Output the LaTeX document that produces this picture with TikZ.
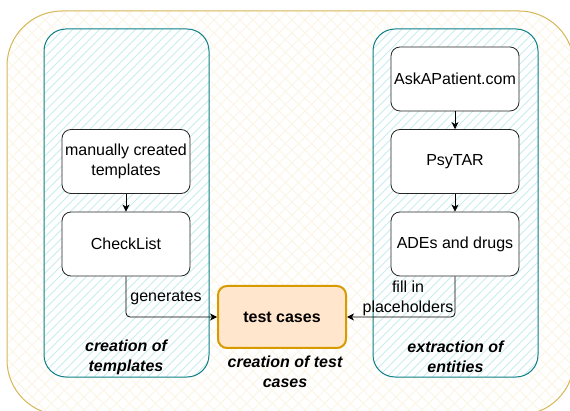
\documentclass[tikz,border=0pt]{standalone}
\usepackage{fontspec}
\setmainfont{Liberation Sans}
\usetikzlibrary{arrows.meta}
\definecolor{tealS}{HTML}{0E8088}
\definecolor{tealH}{HTML}{C8EDEF}
\definecolor{goldS}{HTML}{D6B656}
\definecolor{goldH}{HTML}{FDF5E3}
\definecolor{orgF}{HTML}{FFE6CC}
\definecolor{orgS}{HTML}{D79B00}
\begin{document}
\begin{tikzpicture}[x=1pt,y=-1pt,
  every node/.style={font=\fontsize{16}{20}\selectfont},
  stepbox/.style={draw=black!85, line width=0.8pt, fill=white, rounded corners=9pt,
    minimum width=128pt, minimum height=64pt, align=center, inner sep=1pt},
  tcbox/.style={draw=orgS, line width=2pt, fill=orgF, rounded corners=9pt,
    minimum width=128pt, minimum height=62pt, align=center, font=\fontsize{16}{20}\selectfont\bfseries},
  grp/.style={font=\fontsize{16}{20}\selectfont\bfseries\itshape, align=center},
  lbl/.style={align=center, inner sep=0pt},
  arr/.style={draw=black, line width=0.8pt, -{Stealth[length=7pt,width=7pt,inset=2pt]}},
  hatchO/.style={draw=goldH, line width=0.9pt},
  hatchT/.style={draw=tealH, line width=0.9pt}]
\useasboundingbox (0,0) rectangle (570,411);
% outer container
\begin{scope}
  \clip (0,0) rectangle (570,411);
  \fill[white, rounded corners=55pt] (7,11) rectangle (574,415);
  \begin{scope}
    \clip[rounded corners=55pt] (7,11) rectangle (574,415);
    \foreach \i in {-430,-417,...,600} {
      \draw[hatchO] (\i,0) -- ++(430,430);
      \draw[hatchO] (\i,430) -- ++(430,-430);
    }
  \end{scope}
  \draw[goldS, line width=1pt, rounded corners=55pt] (7,11) rectangle (574,415);
\end{scope}
% teal groups
\foreach \xa/\xb in {44/209, 373/538} {
  \fill[white, rounded corners=22pt] (\xa,29) rectangle (\xb,377);
  \begin{scope}
    \clip[rounded corners=22pt] (\xa,29) rectangle (\xb,377);
    \foreach \i in {-360,-351,...,200} {
      \draw[hatchT] (\xa+\i,400) -- ++(400,-400);
    }
  \end{scope}
  \draw[tealS, line width=1pt, rounded corners=22pt] (\xa,29) rectangle (\xb,377);
}
% nodes
\node[stepbox] (man) at (126,161.5) {manually created\\templates};
\node[stepbox] (chk) at (126,244) {CheckList};
\node[stepbox] (ask) at (455,79) {AskAPatient.com};
\node[stepbox] (psy) at (455,161.5) {PsyTAR};
\node[stepbox] (ade) at (455,244) {ADEs and drugs};
\node[tcbox] (tc) at (282,317) {test cases};
% connectors
\draw[arr] (man) -- (chk);
\draw[arr] (ask) -- (psy);
\draw[arr] (psy) -- (ade);
\draw[arr, rounded corners=4pt] (chk.south) |- (tc.west);
\draw[arr, rounded corners=4pt] (ade.south) |- (tc.east);
\node[lbl] (gen) at (166,298) {generates};
\node[lbl] (fill) at (408,298) {fill in\\placeholders};
% group labels
\node[grp] (g1) at (126,357) {creation of\\templates};
\node[grp] (g2) at (285,372) {creation of test\\cases};
\node[grp] (g3) at (455.5,357) {extraction of\\entities};
\end{tikzpicture}
\end{document}
